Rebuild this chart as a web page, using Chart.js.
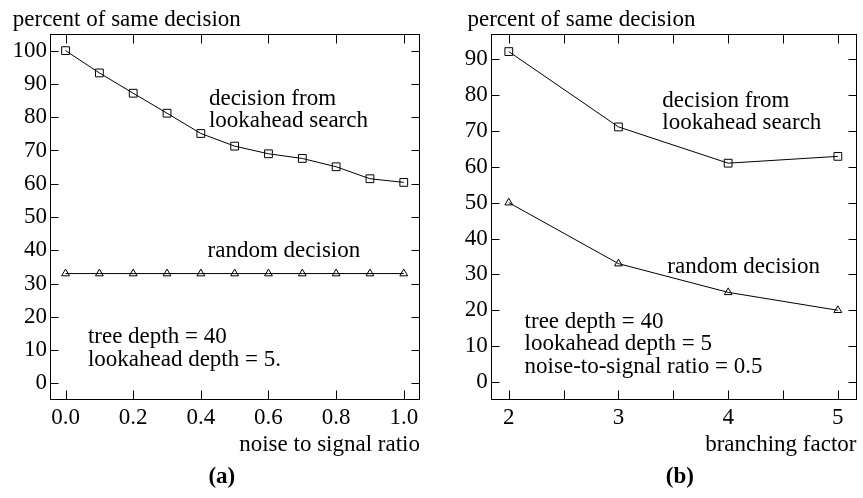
<!DOCTYPE html>
<html>
<head>
<meta charset="utf-8">
<script src="https://cdn.jsdelivr.net/npm/chart.js@4"></script>
<style>
  html, body { margin: 0; padding: 0; background: #fff; }
  #wrap { position: relative; width: 863px; height: 498px; }
  #chartA { position: absolute; left: 0; top: 0; }
  #chartB { position: absolute; left: 430px; top: 0; }
</style>
</head>
<body>
<div id="wrap">
  <canvas id="chartA" width="430" height="498"></canvas>
  <canvas id="chartB" width="433" height="498"></canvas>
</div>
<script>
// (a) noise to signal ratio
const noiseRatio = [0.0, 0.1, 0.2, 0.3, 0.4, 0.5, 0.6, 0.7, 0.8, 0.9, 1.0];
const lookaheadA = [100, 93.3, 87.2, 81.2, 75.1, 71.3, 69.0, 67.6, 65.1, 61.5, 60.4];
const randomA = [33, 33, 33, 33, 33, 33, 33, 33, 33, 33, 33];
const xTicksA = [0.0, 0.2, 0.4, 0.6, 0.8, 1.0];
const yTicksA = [0, 10, 20, 30, 40, 50, 60, 70, 80, 90, 100];

// (b) branching factor
const branching = [2, 3, 4, 5];
const lookaheadB = [92.1, 71.1, 61.0, 62.9];
const randomB = [50, 33, 25, 20];
const xTicksB = [2, 2.5, 3, 3.5, 4, 4.5, 5];
const yTicksB = [0, 10, 20, 30, 40, 50, 60, 70, 80, 90];

const FONT = "'Liberation Serif', serif";
const SIZE = 23;

function pts(xs, ys) {
    return xs.map((x, i) => ({ x: x, y: ys[i] }));
}

// box + inward tick marks + free text
const framePlugin = {
    id: "frame",
    afterDraw(chart, args, opts) {
        const ctx = chart.ctx;
        const a = chart.chartArea;
        const xs = chart.scales.x, ys = chart.scales.y;
        const L = Math.round(a.left) + 0.5, R = Math.round(a.right) - 0.5;
        const T = Math.round(a.top) + 0.5, B = Math.round(a.bottom) - 0.5;
        ctx.save();
        ctx.strokeStyle = "#000";
        ctx.lineWidth = 1;
        ctx.strokeRect(L, T, R - L, B - T);
        ctx.beginPath();
        xs.ticks.forEach(t => {
            const px = Math.round(xs.getPixelForValue(t.value)) + 0.5;
            ctx.moveTo(px, B); ctx.lineTo(px, B - 9);
            ctx.moveTo(px, T); ctx.lineTo(px, T + 9);
        });
        ys.ticks.forEach(t => {
            const py = Math.round(ys.getPixelForValue(t.value)) + 0.5;
            ctx.moveTo(L, py); ctx.lineTo(L + 8, py);
            ctx.moveTo(R, py); ctx.lineTo(R - 8, py);
        });
        ctx.stroke();

        ctx.fillStyle = "#000";
        ctx.textBaseline = "middle";
        (opts.notes || []).forEach(n => {
            ctx.font = (n.bold ? "bold " : "") + SIZE + "px " + FONT;
            ctx.textAlign = n.align || "left";
            const px = xs.getPixelForValue(n.x);
            const py = n.dy !== undefined ? a.bottom + n.dy : ys.getPixelForValue(n.y);
            n.text.split("\n").forEach((line, i) => {
                ctx.fillText(line, px, py + i * 22.5);
            });
        });
        ctx.restore();
    }
};

function makeChart(id, cfg) {
    const ctx = document.getElementById(id).getContext("2d");
    return new Chart(ctx, {
        type: "line",
        data: {
            datasets: [{
                label: "decision from lookahead search",
                data: pts(cfg.xs, cfg.look),
                borderColor: "#000",
                borderWidth: 1,
                pointStyle: "rect",
                pointRadius: 5.5,
                pointBorderWidth: 1,
                pointBorderColor: "#000",
                pointBackgroundColor: "rgba(0,0,0,0)",
                tension: 0
            }, {
                label: "random decision",
                data: pts(cfg.xs, cfg.rand),
                borderColor: "#000",
                borderWidth: 1,
                pointStyle: "triangle",
                pointRadius: 4.5,
                pointBorderWidth: 1,
                pointBorderColor: "#000",
                pointBackgroundColor: "rgba(0,0,0,0)",
                tension: 0
            }]
        },
        options: {
            responsive: false,
            animation: false,
            devicePixelRatio: 1,
            layout: { padding: { top: 34, right: cfg.padRight, bottom: 41.5, left: 0 } },
            plugins: {
                legend: { display: false },
                tooltip: { enabled: false },
                frame: { notes: cfg.notes }
            },
            scales: {
                x: {
                    type: "linear",
                    min: cfg.xMin,
                    max: cfg.xMax,
                    grid: { display: false, drawTicks: false },
                    border: { display: false },
                    afterBuildTicks: s => { s.ticks = cfg.xTicks.map(v => ({ value: v })); },
                    afterFit: s => { s.height = 56.5; },
                    ticks: {
                        autoSkip: false,
                        maxRotation: 0,
                        padding: 6,
                        color: "#000",
                        font: { family: FONT, size: SIZE, lineHeight: 1 },
                        callback: cfg.xLabel
                    },
                    title: {
                        display: true,
                        text: cfg.xTitle,
                        align: "end",
                        color: "#000",
                        font: { family: FONT, size: SIZE, lineHeight: 1 },
                        padding: { top: 4.5, bottom: 0 }
                    }
                },
                y: {
                    type: "linear",
                    min: cfg.yMin,
                    max: cfg.yMax,
                    grid: { display: false, drawTicks: false },
                    border: { display: false },
                    afterBuildTicks: s => { s.ticks = cfg.yTicks.map(v => ({ value: v })); },
                    afterFit: s => { s.width = cfg.yWidth; },
                    ticks: {
                        autoSkip: false,
                        padding: 3,
                        color: "#000",
                        font: { family: FONT, size: SIZE, lineHeight: 1 }
                    }
                }
            }
        },
        plugins: [framePlugin]
    });
}

function drawAll() {
    makeChart("chartA", {
        xs: noiseRatio, look: lookaheadA, rand: randomA,
        xTicks: xTicksA, yTicks: yTicksA,
        xMin: -0.046, xMax: 1.048, yMin: -5, yMax: 105,
        yWidth: 50, padRight: 10,
        xTitle: "noise to signal ratio",
        xLabel: v => v.toFixed(1),
        notes: [
            { text: "percent of same decision", x: -0.156, y: 109.3 },
            { text: "decision from\nlookahead search", x: 0.424, y: 85.6 },
            { text: "random decision", x: 0.42, y: 39.8 },
            { text: "tree depth = 40\nlookahead depth = 5.", x: 0.066, y: 13.8 },
            { text: "(a)", x: 0.462, dy: 77, align: "center", bold: true }
        ]
    });

    makeChart("chartB", {
        xs: branching, look: lookaheadB, rand: randomB,
        xTicks: xTicksB, yTicks: yTicksB,
        xMin: 1.835, xMax: 5.17, yMin: -5, yMax: 97,
        yWidth: 60.7, padRight: 1,
        xTitle: "branching factor",
        xLabel: v => Number.isInteger(v) ? String(v) : "",
        notes: [
            { text: "percent of same decision", x: 1.623, y: 100.9 },
            { text: "decision from\nlookahead search", x: 3.40, y: 78.4 },
            { text: "random decision", x: 3.445, y: 32.1 },
            { text: "tree depth = 40\nlookahead depth = 5\nnoise-to-signal ratio = 0.5", x: 2.144, y: 16.8 },
            { text: "(b)", x: 3.56, dy: 77, align: "center", bold: true }
        ]
    });
}

// make sure the serif face is ready before the canvases draw text
Promise.all([
    document.fonts.load(SIZE + "px 'Liberation Serif'"),
    document.fonts.load("bold " + SIZE + "px 'Liberation Serif'")
]).then(drawAll, drawAll);
</script>
</body>
</html>
